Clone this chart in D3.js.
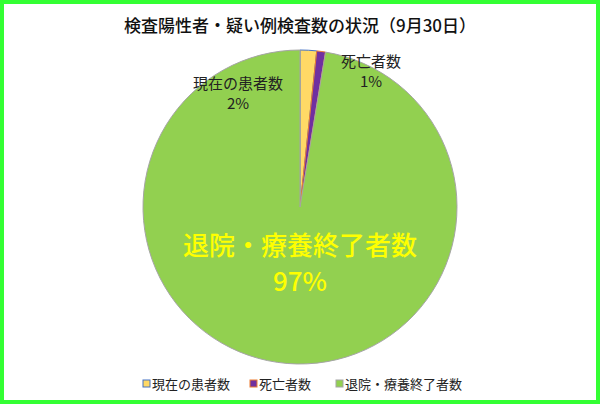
<!DOCTYPE html>
<html><head><meta charset="utf-8">
<script src="https://cdn.jsdelivr.net/npm/d3@7"></script>
<style>body{margin:0;background:#fff}text{font-family:"Noto Sans CJK JP",sans-serif}</style>
</head><body>
<script>
const categories = ["現在の患者数", "死亡者数", "退院・療養終了者数"];
const values = [17, 9, 974];
const fills = ["#ffd966", "#7030a0", "#92d050"];
const strokes = ["#4472c4", "#ed7d31", "#a5a5a5"];

const W = 600, H = 404;
const svg = d3.select("body").append("svg").attr("width", W).attr("height", H);

// green frame
svg.append("rect").attr("x", 2).attr("y", 2).attr("width", W - 4).attr("height", H - 4)
    .attr("fill", "#fff").attr("stroke", "#33ff33").attr("stroke-width", 4);

svg.append("text").attr("x", 300).attr("y", 32).attr("text-anchor", "middle")
    .attr("font-size", "17px").attr("font-weight", 500).attr("fill", "#111")
    .text("検査陽性者・疑い例検査数の状況（9月30日）");

const cx = 300, cy = 207, r = 157;
const total = d3.sum(values);
const pie = d3.pie().sort(null)(values);
const arc = d3.arc().innerRadius(0).outerRadius(r);
const g = svg.append("g").attr("transform", `translate(${cx},${cy})`);

g.selectAll("path").data(pie).enter().append("path")
    .attr("d", arc)
    .attr("fill", (d, i) => fills[i])
    .attr("stroke", (d, i) => strokes[i])
    .attr("stroke-width", 1);

const pct = v => Math.round(v / total * 100) + "%";

// outside labels for the small slices
const outLabels = [
    {i: 0, x: -62, y: -118, anchor: "middle"},
    {i: 1, x: 71, y: -140, anchor: "middle"}
];
outLabels.forEach(l => {
    const t = g.append("text").attr("text-anchor", l.anchor).attr("font-size", "15px").attr("fill", "#222");
    t.append("tspan").attr("x", l.x).attr("y", l.y).text(categories[l.i]);
    t.append("tspan").attr("x", l.x).attr("y", l.y + 20).text(pct(values[l.i]));
});

const big = g.append("text").attr("text-anchor", "middle").attr("fill", "#ffff00")
    .attr("font-size", "26px").attr("font-weight", 500);
big.append("tspan").attr("x", 0).attr("y", 48).text(categories[2]);
big.append("tspan").attr("x", 0).attr("y", 84).text(pct(values[2]));

// legend
const leg = svg.append("g").attr("transform", "translate(143,389)");
const offs = [0, 107, 193];
categories.forEach((c, i) => {
    const it = leg.append("g").attr("transform", `translate(${offs[i]},0)`);
    it.append("rect").attr("x", 0).attr("y", -9).attr("width", 7).attr("height", 7)
        .attr("fill", fills[i]).attr("stroke", strokes[i]).attr("stroke-width", 1);
    it.append("text").attr("x", 9).attr("y", 0).attr("font-size", "13px").attr("fill", "#222").text(c);
});
</script>
</body></html>
